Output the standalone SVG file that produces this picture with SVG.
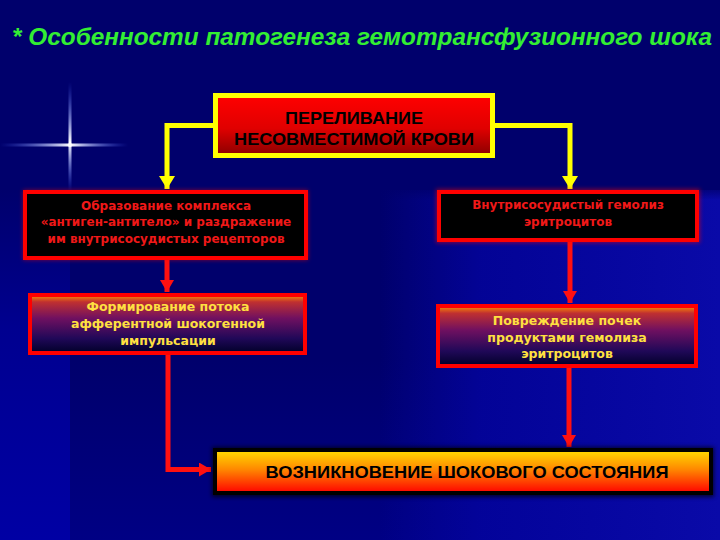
<svg xmlns="http://www.w3.org/2000/svg" width="720" height="540" viewBox="0 0 720 540">
<defs>
  <linearGradient id="bgRight" x1="0" y1="0" x2="1" y2="0">
    <stop offset="0" stop-color="#0505a4" stop-opacity="0"/>
    <stop offset="0.3" stop-color="#0404a0" stop-opacity="0.8"/>
    <stop offset="1" stop-color="#0a0aa8" stop-opacity="1"/>
  </linearGradient>
  <linearGradient id="bgRightTop" x1="0" y1="0" x2="0" y2="1">
    <stop offset="0" stop-color="#00006c" stop-opacity="1"/>
    <stop offset="1" stop-color="#00006c" stop-opacity="0"/>
  </linearGradient>
  <linearGradient id="bgLeft" x1="0" y1="0" x2="0" y2="1">
    <stop offset="0" stop-color="#00006c"/>
    <stop offset="0.4" stop-color="#000090"/>
    <stop offset="1" stop-color="#0000a4"/>
  </linearGradient>
  <linearGradient id="bgBottom" x1="0" y1="0" x2="0" y2="1">
    <stop offset="0" stop-color="#00006c"/>
    <stop offset="1" stop-color="#000084"/>
  </linearGradient>
  <linearGradient id="redFill" x1="0" y1="0" x2="0" y2="1">
    <stop offset="0" stop-color="#ff0000"/>
    <stop offset="0.55" stop-color="#e00000"/>
    <stop offset="1" stop-color="#8a0000"/>
  </linearGradient>
  <linearGradient id="purpleFill" x1="0" y1="0" x2="0" y2="1">
    <stop offset="0" stop-color="#ff9000"/>
    <stop offset="0.12" stop-color="#c03030"/>
    <stop offset="0.4" stop-color="#701060"/>
    <stop offset="0.75" stop-color="#200858"/>
    <stop offset="1" stop-color="#000028"/>
  </linearGradient>
  <linearGradient id="fireFill" x1="0" y1="0" x2="0" y2="1">
    <stop offset="0" stop-color="#ffdd00"/>
    <stop offset="0.45" stop-color="#ff8800"/>
    <stop offset="1" stop-color="#ff0000"/>
  </linearGradient>
  <linearGradient id="starV" x1="0" y1="0" x2="0" y2="1">
    <stop offset="0" stop-color="#4060ff" stop-opacity="0"/>
    <stop offset="0.55" stop-color="#ffffff" stop-opacity="1"/>
    <stop offset="1" stop-color="#4060ff" stop-opacity="0"/>
  </linearGradient>
  <linearGradient id="starH" x1="0" y1="0" x2="1" y2="0">
    <stop offset="0" stop-color="#4060ff" stop-opacity="0"/>
    <stop offset="0.55" stop-color="#ffffff" stop-opacity="1"/>
    <stop offset="1" stop-color="#4060ff" stop-opacity="0"/>
  </linearGradient>
  <filter id="glow" x="-10%" y="-20%" width="120%" height="140%">
    <feGaussianBlur stdDeviation="2"/>
  </filter>
  <marker id="arrowY" markerUnits="userSpaceOnUse" markerWidth="16" markerHeight="16" refX="13" refY="8" orient="auto">
    <path d="M0,0 L13,8 L0,16 Z" fill="#ffff00"/>
  </marker>
  <marker id="arrowR" markerUnits="userSpaceOnUse" markerWidth="14" markerHeight="14" refX="12" refY="7" orient="auto">
    <path d="M0,0 L12,7 L0,14 Z" fill="#ff1010"/>
  </marker>
  <style>
    .title { font-family: "Liberation Sans", "DejaVu Sans", sans-serif; font-weight: bold; font-style: italic; font-size: 24px; fill: #33ee33; }
    .redbox { fill: #000000; stroke: #ff0000; stroke-width: 4; }
    .grbox { fill: url(#purpleFill); stroke: #ff0000; stroke-width: 4; }
    .redtxt { font-family: "DejaVu Sans", Verdana, sans-serif; font-weight: bold; font-size: 12px; fill: #f01818; text-anchor: middle; }
    .yeltxt { font-family: "DejaVu Sans", Verdana, sans-serif; font-weight: bold; font-size: 12.5px; fill: #ffe040; text-anchor: middle; }
    .blktxt { font-family: "Liberation Sans", Arial, sans-serif; font-weight: bold; fill: #000000; text-anchor: middle; }
    .yconn { fill: none; stroke: #ffff00; stroke-width: 5; }
    .rconn { fill: none; stroke: #ff1010; stroke-width: 5; }
  </style>
</defs>

<!-- background -->
<rect x="0" y="0" width="720" height="540" fill="#00006c"/>
<rect x="70" y="360" width="650" height="180" fill="url(#bgBottom)"/>
<rect x="380" y="190" width="340" height="350" fill="url(#bgRight)"/>
<rect x="380" y="186" width="340" height="14" fill="url(#bgRightTop)"/>
<rect x="0" y="190" width="70" height="350" fill="url(#bgLeft)"/>

<!-- star sparkle -->
<g id="sparkle">
  <rect x="68.5" y="82" width="3" height="110" fill="url(#starV)"/>
  <rect x="0" y="143.5" width="128" height="3" fill="url(#starH)"/>
  <circle cx="70" cy="145" r="2" fill="#ffffff"/>
</g>

<!-- title -->
<text class="title" x="12" y="45" textLength="700" lengthAdjust="spacingAndGlyphs">*  Особенности патогенеза гемотрансфузионного шока</text>

<!-- connectors -->
<g id="connectors">
  <path class="yconn" d="M215,125.5 H167 V189" marker-end="url(#arrowY)"/>
  <path class="yconn" d="M493,125.5 H570 V189" marker-end="url(#arrowY)"/>
  <path class="rconn" d="M167,260 V292" marker-end="url(#arrowR)"/>
  <path class="rconn" d="M570,240 V303" marker-end="url(#arrowR)"/>
  <path class="rconn" d="M168,355 V469.5 H211" marker-end="url(#arrowR)"/>
  <path class="rconn" d="M569,368 V447" marker-end="url(#arrowR)"/>
</g>

<!-- top node -->
<g id="node-transfusion">
  <rect x="215.5" y="95.5" width="277" height="60" fill="url(#redFill)" stroke="#ffff00" stroke-width="5"/>
  <text class="blktxt" x="354" y="124" font-size="17" textLength="138" lengthAdjust="spacingAndGlyphs">ПЕРЕЛИВАНИЕ</text>
  <text class="blktxt" x="354" y="145" font-size="17" textLength="240" lengthAdjust="spacingAndGlyphs">НЕСОВМЕСТИМОЙ КРОВИ</text>
</g>

<!-- left column -->
<g id="node-complex">
  <rect x="23" y="190" width="285" height="70" fill="#ff0000" opacity="0.5" filter="url(#glow)"/>
  <rect class="redbox" x="25" y="192" width="281" height="66"/>
  <text class="redtxt" x="166" y="210">Образование комплекса</text>
  <text class="redtxt" x="166" y="226">«антиген-антитело» и раздражение</text>
  <text class="redtxt" x="166" y="243">им внутрисосудистых рецепторов</text>
</g>

<g id="node-impulse">
  <rect class="grbox" x="30" y="295" width="275" height="58"/>
  <text class="yeltxt" x="168" y="311">Формирование потока</text>
  <text class="yeltxt" x="168" y="328">афферентной шокогенной</text>
  <text class="yeltxt" x="168" y="345">импульсации</text>
</g>

<!-- right column -->
<g id="node-hemolysis">
  <rect x="436" y="189" width="264" height="54" fill="#ff0000" opacity="0.5" filter="url(#glow)"/>
  <rect class="redbox" x="439" y="192" width="258" height="48"/>
  <text class="redtxt" x="568" y="209">Внутрисосудистый гемолиз</text>
  <text class="redtxt" x="568" y="226">эритроцитов</text>
</g>

<g id="node-kidney">
  <rect class="grbox" x="438" y="306" width="258" height="60"/>
  <text class="yeltxt" x="567" y="325">Повреждение почек</text>
  <text class="yeltxt" x="567" y="342">продуктами гемолиза</text>
  <text class="yeltxt" x="567" y="358">эритроцитов</text>
</g>

<!-- final node -->
<g id="node-shock">
  <rect x="212" y="447" width="502" height="50" fill="#000000" opacity="0.7" filter="url(#glow)"/>
  <rect x="215" y="450" width="496" height="43" fill="url(#fireFill)" stroke="#000000" stroke-width="4"/>
  <text class="blktxt" x="467" y="478" font-size="17" textLength="403" lengthAdjust="spacingAndGlyphs">ВОЗНИКНОВЕНИЕ ШОКОВОГО СОСТОЯНИЯ</text>
</g>
</svg>
